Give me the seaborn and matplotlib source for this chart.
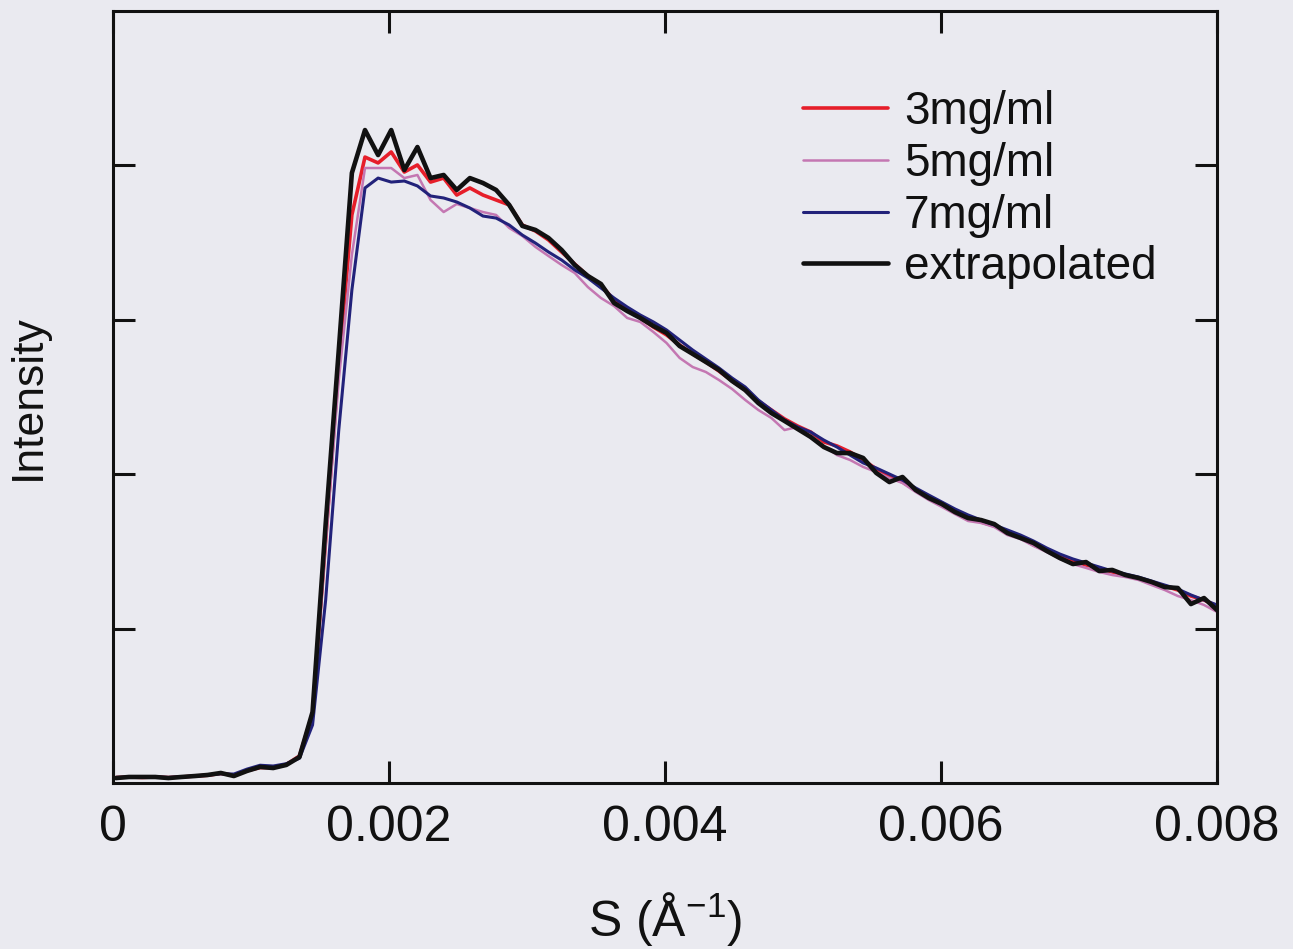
import matplotlib
matplotlib.use("Agg")
import matplotlib.pyplot as plt
import seaborn as sns
import pandas as pd
from matplotlib import font_manager

# ---------------- data ----------------
s_values = [0.000021, 0.000116, 0.000211, 0.000306, 0.000401, 0.000496, 0.000591, 0.000686, 0.000781, 0.000876,
            0.000971, 0.001066, 0.001161, 0.001256, 0.001351, 0.001446, 0.001541, 0.001636, 0.001731, 0.001826,
            0.001921, 0.002016, 0.002111, 0.002206, 0.002301, 0.002396, 0.002491, 0.002586, 0.002681, 0.002776,
            0.002871, 0.002966, 0.003061, 0.003156, 0.003251, 0.003346, 0.003441, 0.003536, 0.003631, 0.003726,
            0.003821, 0.003916, 0.004011, 0.004106, 0.004201, 0.004296, 0.004391, 0.004486, 0.004581, 0.004676,
            0.004771, 0.004866, 0.004961, 0.005056, 0.005151, 0.005246, 0.005341, 0.005436, 0.005531, 0.005626,
            0.005721, 0.005816, 0.005911, 0.006006, 0.006101, 0.006196, 0.006291, 0.006386, 0.006481, 0.006576,
            0.006671, 0.006766, 0.006861, 0.006956, 0.007051, 0.007146, 0.007241, 0.007336, 0.007431, 0.007526,
            0.007621, 0.007716, 0.007811, 0.007906, 0.008000]

i_3mg = [3.5, 3.9, 3.6, 3.9, 3.5, 3.9, 4.5, 5.0, 6.2, 5.0, 8.0, 10.0, 10.0, 12.0, 17.5, 45.0, 157.0, 270.7, 367.9, 405.4,
         401.6, 408.7, 395.7, 400.3, 389.2, 391.8, 380.8, 385.4, 380.8, 377.6, 374.4, 361.4, 357.5, 351.7, 343.9,
         336.1, 328.4, 322.5, 312.8, 306.4, 301.2, 295.3, 290.2, 283.7, 277.9, 272.7, 266.8, 260.4, 254.5, 247.4,
         241.6, 235.8, 231.2, 227.3, 220.9, 218.3, 214.4, 209.2, 203.4, 198.8, 194.9, 189.8, 185.2, 181.3, 176.2,
         172.3, 169.0, 166.5, 162.6, 159.3, 154.1, 150.9, 147.0, 143.8, 141.2, 139.3, 136.7, 134.7, 132.8, 129.5,
         127.6, 125.0, 121.1, 118.5, 114.6]

i_5mg = [3.5, 3.6, 3.9, 3.6, 3.5, 3.9, 4.2, 5.2, 6.0, 5.5, 8.5, 11.0, 10.5, 12.5, 17.0, 44.0, 154.1, 261.0, 342.0, 398.3,
         398.3, 398.3, 391.8, 393.8, 377.6, 369.8, 375.0, 372.4, 369.8, 367.9, 359.5, 354.3, 347.2, 341.3, 335.5,
         330.3, 321.2, 314.1, 308.9, 301.2, 298.6, 292.1, 285.0, 275.3, 269.4, 266.2, 261.0, 255.2, 248.1, 241.6,
         236.4, 228.6, 230.6, 223.5, 218.3, 212.4, 209.2, 204.7, 201.4, 197.5, 194.3, 188.5, 183.3, 178.8, 174.2,
         169.7, 168.4, 165.8, 160.6, 158.0, 153.5, 149.6, 145.1, 141.8, 139.3, 136.7, 134.7, 133.4, 131.5, 128.2,
         125.0, 121.1, 118.5, 115.3, 110.8]

i_7mg = [3.6, 3.8, 3.8, 3.9, 3.6, 4.0, 4.5, 5.2, 6.0, 5.8, 9.0, 11.5, 11.0, 12.5, 16.0, 37.6, 118.5, 228.6, 319.3, 385.4,
         391.8, 389.2, 389.9, 386.7, 380.2, 378.9, 376.3, 372.4, 367.2, 365.9, 361.4, 354.9, 349.7, 343.9, 338.7,
         332.3, 327.1, 320.6, 314.1, 308.3, 303.1, 298.6, 293.4, 286.9, 280.4, 274.6, 268.8, 262.3, 256.5, 248.1,
         241.6, 235.1, 230.6, 227.3, 222.1, 217.6, 212.4, 207.3, 204.0, 200.1, 196.2, 191.1, 186.5, 182.0, 177.5,
         173.6, 170.3, 167.1, 163.9, 160.6, 156.7, 152.2, 148.3, 145.1, 142.5, 139.9, 137.3, 135.4, 133.4, 130.8,
         128.2, 125.6, 121.8, 118.5, 115.3]

i_extrap = [3.2, 3.9, 3.9, 3.9, 3.2, 3.9, 4.5, 5.2, 6.5, 4.5, 7.8, 10.4, 9.7, 11.7, 16.8, 46.0, 167.7, 280.4, 395.1, 422.9,
            406.7, 422.9, 397.0, 411.9, 391.8, 393.8, 384.1, 391.8, 388.6, 384.1, 374.4, 360.8, 358.2, 353.0, 345.2,
            335.5, 328.4, 323.2, 310.9, 305.7, 301.2, 296.0, 291.5, 283.0, 277.9, 272.7, 267.5, 260.4, 254.5, 246.1,
            239.6, 234.5, 229.3, 224.1, 217.6, 213.7, 213.7, 210.5, 200.8, 194.9, 198.2, 189.8, 184.6, 180.7, 175.5,
            171.6, 170.3, 167.7, 161.9, 158.7, 155.4, 150.3, 145.7, 141.8, 143.1, 137.3, 138.0, 134.7, 132.8, 130.2,
            126.9, 126.3, 115.9, 119.8, 112.0]

series_names = ["3mg/ml", "5mg/ml", "7mg/ml", "extrapolated"]
x_ticks = [0, 0.002, 0.004, 0.006, 0.008]
x_tick_labels = ["0", "0.002", "0.004", "0.006", "0.008"]
y_ticks = [100, 200, 300, 400]

# ---------------- style ----------------
sns.set_theme(style="ticks")
names = {f.name for f in font_manager.fontManager.ttflist}
narrow = "Liberation Sans Narrow" if "Liberation Sans Narrow" in names else "Liberation Sans"
tick_size = 43 if narrow == "Liberation Sans Narrow" else 36
plt.rcParams["font.family"] = ["Liberation Sans", "DejaVu Sans"]
plt.rcParams["mathtext.fontset"] = "custom"
plt.rcParams["mathtext.rm"] = narrow
plt.rcParams["mathtext.default"] = "regular"

ink = "#111111"
bg = "#eaeaf0"
fig = plt.figure(figsize=(12.93, 9.49), dpi=100, facecolor=bg)
ax = fig.add_axes([113 / 1293, 1 - 783 / 949, (1217 - 113) / 1293, (783 - 11) / 949])
ax.set_facecolor(bg)

colors = {"3mg/ml": "#e61e2a", "5mg/ml": "#c477b2", "7mg/ml": "#22227a", "extrapolated": ink}
widths = {"3mg/ml": 2.6, "5mg/ml": 1.8, "7mg/ml": 2.2, "extrapolated": 3.3}
values = {"3mg/ml": i_3mg, "5mg/ml": i_5mg, "7mg/ml": i_7mg, "extrapolated": i_extrap}

for name in series_names:
    df = pd.DataFrame({"S": s_values, "I": values[name]})
    sns.lineplot(data=df, x="S", y="I", ax=ax, color=colors[name], linewidth=widths[name],
                 label=name, estimator=None, sort=False)

ax.set_xlim(0, 0.008)
ax.set_ylim(0, 500)
ax.set_xticks(x_ticks)
ax.set_xticklabels(x_tick_labels, fontfamily=narrow, fontsize=tick_size)
ax.set_yticks(y_ticks)
ax.set_yticklabels([])
ax.tick_params(direction="in", top=True, right=True, length=16, width=2.2, color=ink,
               labelcolor=ink, pad=16)
for sp in ax.spines.values():
    sp.set_linewidth(2.2)
    sp.set_color(ink)

ax.set_xlabel("S (Å$^{-1}$)", fontfamily=narrow, fontsize=tick_size, color=ink)
ax.xaxis.set_label_coords(0.5, -0.138)
ax.set_ylabel("Intensity", fontsize=32, color=ink)
ax.yaxis.set_label_coords(-0.058, 0.5)

leg = ax.legend(loc="upper left", bbox_to_anchor=(803 / 1293, 1 - 90 / 949), bbox_transform=fig.transFigure,
                frameon=False, fontsize=33, handlelength=1.85, handletextpad=0.35, labelspacing=0.17,
                borderpad=0, borderaxespad=0)
for t in leg.get_texts():
    t.set_color(ink)

fig.savefig("out.png", dpi=100, facecolor=bg)
